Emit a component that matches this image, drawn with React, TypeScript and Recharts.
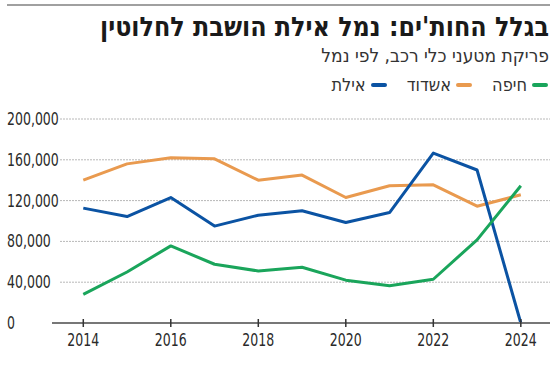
import React from "react";
import { LineChart, Line, XAxis, YAxis, CartesianGrid } from "recharts";

const years = [2014, 2015, 2016, 2017, 2018, 2019, 2020, 2021, 2022, 2023, 2024];
const eilat = [112600, 104400, 123000, 95000, 105700, 110000, 98500, 108300, 166600, 150000, 0];
const ashdod = [140000, 156000, 162000, 161000, 140000, 145000, 123000, 134500, 135500, 114500, 125700];
const haifa = [28000, 50000, 75600, 57600, 51000, 54700, 42000, 36600, 42900, 81500, 134500];
const yTicks = [0, 40000, 80000, 120000, 160000, 200000];
const xTicks = [2014, 2016, 2018, 2020, 2022, 2024];

const series = [
  { key: "ashdod", name: "אשדוד", color: "#e99a4f" },
  { key: "eilat", name: "אילת", color: "#0b53a3" },
  { key: "haifa", name: "חיפה", color: "#1aa55b" },
];
// legend order right-to-left
const legendOrder = ["haifa", "ashdod", "eilat"];

const data = years.map((year, i) => ({
  year,
  eilat: eilat[i],
  ashdod: ashdod[i],
  haifa: haifa[i],
}));

const FONT = '"Liberation Sans Narrow", "DejaVu Sans Condensed", "Liberation Sans", sans-serif';

const YTick = (props: any) => {
  const { y, payload } = props;
  return (
    <text
      transform={`translate(7,${y + 6}) scale(0.82,1)`}
      textAnchor="start"
      fontSize={17}
      fill="#2a2a2a"
      fontFamily={FONT}
    >
      {payload.value.toLocaleString("en-US")}
    </text>
  );
};

const XTick = (props: any) => {
  const { x, y, payload } = props;
  return (
    <g>
      <line x1={x} x2={x} y1={y - 4} y2={y + 4} stroke="#333" strokeWidth={1.5} />
      <text
        transform={`translate(${x},${y + 23}) scale(0.82,1)`}
        textAnchor="middle"
        fontSize={17}
        fill="#2a2a2a"
        fontFamily={FONT}
      >
        {payload.value}
      </text>
    </g>
  );
};

export default function App() {
  return (
    <div style={{ position: "relative", width: 550, height: 369, background: "#fff", fontFamily: FONT, overflow: "hidden" }}>
      <style>{`body{margin:0}`}</style>
      <div style={{ position: "absolute", left: 7, right: 0, top: 4, height: 2, background: "#a0a0a0" }} />
      <div
        dir="rtl"
        style={{ position: "absolute", right: 1, top: 11, fontSize: 26.5, fontWeight: 700, color: "#1a1a1a", whiteSpace: "nowrap", lineHeight: "32px" }}
      >
        בגלל החות'ים: נמל אילת הושבת לחלוטין
      </div>
      <div
        dir="rtl"
        style={{ position: "absolute", right: 1, top: 43, fontSize: 19, color: "#333", whiteSpace: "nowrap", lineHeight: "24px" }}
      >
        פריקת מטעני כלי רכב, לפי נמל
      </div>
      <div
        dir="rtl"
        style={{ position: "absolute", right: 2, top: 73, display: "flex", gap: 20, fontSize: 18, color: "#333", lineHeight: "24px" }}
      >
        {legendOrder.map((k) => {
          const s = series.find((d) => d.key === k)!;
          return (
            <div key={k} style={{ display: "flex", alignItems: "center", gap: 5 }}>
              <span style={{ display: "inline-block", width: 16, height: 4, borderRadius: 2, background: s.color }} />
              <span>{s.name}</span>
            </div>
          );
        })}
      </div>
      <div style={{ position: "absolute", left: 0, top: 0 }}>
        <LineChart width={550} height={369} data={data} margin={{ top: 119, right: 0, bottom: 0, left: 0 }}>
          <CartesianGrid vertical={false} stroke="#b8b8b8" strokeDasharray="2 1" x={60} width={490} />
          <XAxis
            dataKey="year"
            type="number"
            domain={[2013.285, 2024.667]}
            ticks={xTicks}
            allowDataOverflow
            axisLine={{ stroke: "#777", strokeWidth: 2 }}
            tickLine={false}
            tickSize={0}
            tickMargin={0}
            tick={<XTick />}
            height={46}
            interval={0}
          />
          <YAxis
            domain={[0, 200000]}
            ticks={yTicks}
            width={52}
            axisLine={false}
            tickLine={false}
            tick={<YTick />}
            interval={0}
          />
          {series.map((s) => (
            <Line
              key={s.key}
              dataKey={s.key}
              name={s.name}
              stroke={s.color}
              strokeWidth={3}
              dot={false}
              activeDot={false}
              isAnimationActive={false}
              type="linear"
              strokeLinejoin="round"
            />
          ))}
        </LineChart>
      </div>
    </div>
  );
}
